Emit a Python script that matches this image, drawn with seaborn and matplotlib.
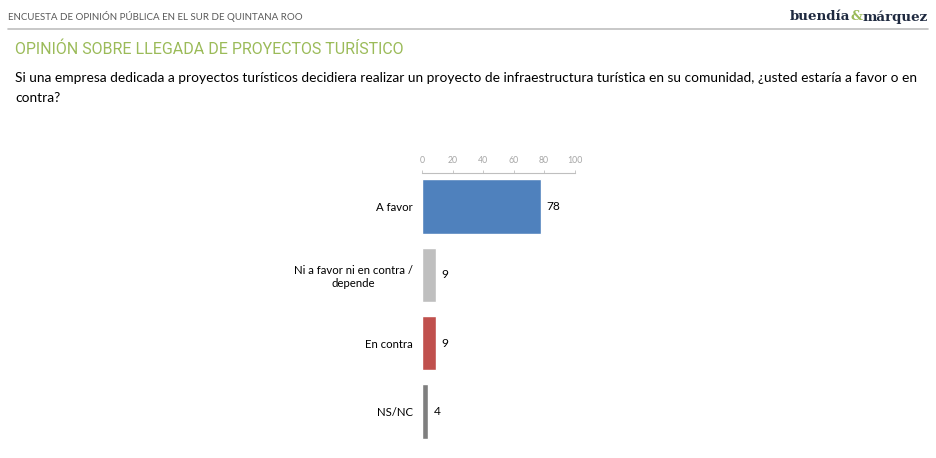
import matplotlib
matplotlib.use("Agg")
import matplotlib.pyplot as plt
import seaborn as sns

categories = ["A favor", "Ni a favor ni en contra /\ndepende", "En contra", "NS/NC"]
values = [78, 9, 9, 4]
bar_colors = ["#4F81BD", "#BFBFBF", "#C0504D", "#7F7F7F"]
x_ticks = [0, 20, 40, 60, 80, 100]

header = "ENCUESTA DE OPINIÓN PÚBLICA EN EL SUR DE QUINTANA ROO"
title = "OPINIÓN SOBRE LLEGADA DE PROYECTOS TURÍSTICO"
question_l1 = ("Si una empresa dedicada a proyectos turísticos decidiera realizar un proyecto "
               "de infraestructura turística en su comunidad, ¿usted estaría a favor o en")
question_l2 = "contra?"
logo_parts = [("buendía", "#1F2A40"), ("&", "#9BBB59"), ("márquez", "#1F2A40")]

sns.set_theme(style="white")
plt.rcParams["font.family"] = ["Lato", "DejaVu Sans"]

W, H = 936, 458
fig = plt.figure(figsize=(W / 100, H / 100), dpi=100)
renderer = fig.canvas.get_renderer()


def px(x, y):
    return x / W, 1 - y / H


def fit_width(txt, target):
    w = txt.get_window_extent(renderer).width
    txt.set_fontsize(txt.get_fontsize() * target / w)


# header strip
t = fig.text(*px(8, 17), header, color="#595959", fontsize=6, va="center", ha="left")
fit_width(t, 294)
fig.add_artist(plt.Line2D([8 / W, 928 / W], [1 - 29 / H] * 2, color="#BFBFBF", lw=1.2))

# logo, drawn piece by piece
parts = []
for s, c in logo_parts:
    parts.append(fig.text(0, 1 - 17 / H, s, color=c, fontsize=10, va="center", ha="left",
                          family="DejaVu Serif", fontweight="bold"))
total = sum(p.get_window_extent(renderer).width for p in parts)
scale = 138 / total
x = 790
for p in parts:
    p.set_fontsize(p.get_fontsize() * scale)
    p.set_x(x / W)
    x += p.get_window_extent(renderer).width

# title and question
t = fig.text(*px(15, 49), title, color="#9BBB59", fontsize=14, va="center", ha="left",
             family=["Roboto", "DejaVu Sans"])
fit_width(t, 390)
t = fig.text(*px(15, 78), question_l1, color="#000000", fontsize=9.5, va="center", ha="left")
fit_width(t, 906)
fig.text(*px(15, 98), question_l2, color="#000000", fontsize=t.get_fontsize(),
         va="center", ha="left")

# chart
ax = fig.add_axes([422 / W, 1 - 445.5 / H, 152.5 / W, 273 / H])
sns.barplot(x=values, y=categories, hue=categories, palette=bar_colors, legend=False,
            width=0.8, orient="h", ax=ax, saturation=1)
ax.set_xlim(0, 100)
ax.set_ylim(3.5, -0.5)
ax.set_xticks(x_ticks)
ax.xaxis.tick_top()
ax.tick_params(axis="x", top=True, direction="out", length=2.5, width=0.6, colors="#BFBFBF",
               labelcolor="#A6A6A6", labelsize=6.3, pad=3)
ax.tick_params(axis="y", left=False, length=0, pad=6.5, labelsize=8.2, labelcolor="#000000")
for lab in ax.get_yticklabels():
    lab.set_multialignment("center")
for side in ["left", "right", "bottom"]:
    ax.spines[side].set_visible(False)
ax.spines["top"].set_color("#BFBFBF")
ax.spines["top"].set_linewidth(0.8)
ax.set_xlabel("")
ax.set_ylabel("")
ax.grid(False)

for cont in ax.containers:
    ax.bar_label(cont, fmt="%d", padding=4, fontsize=8.6, color="#000000")

fig.savefig("out.png", dpi=100)
